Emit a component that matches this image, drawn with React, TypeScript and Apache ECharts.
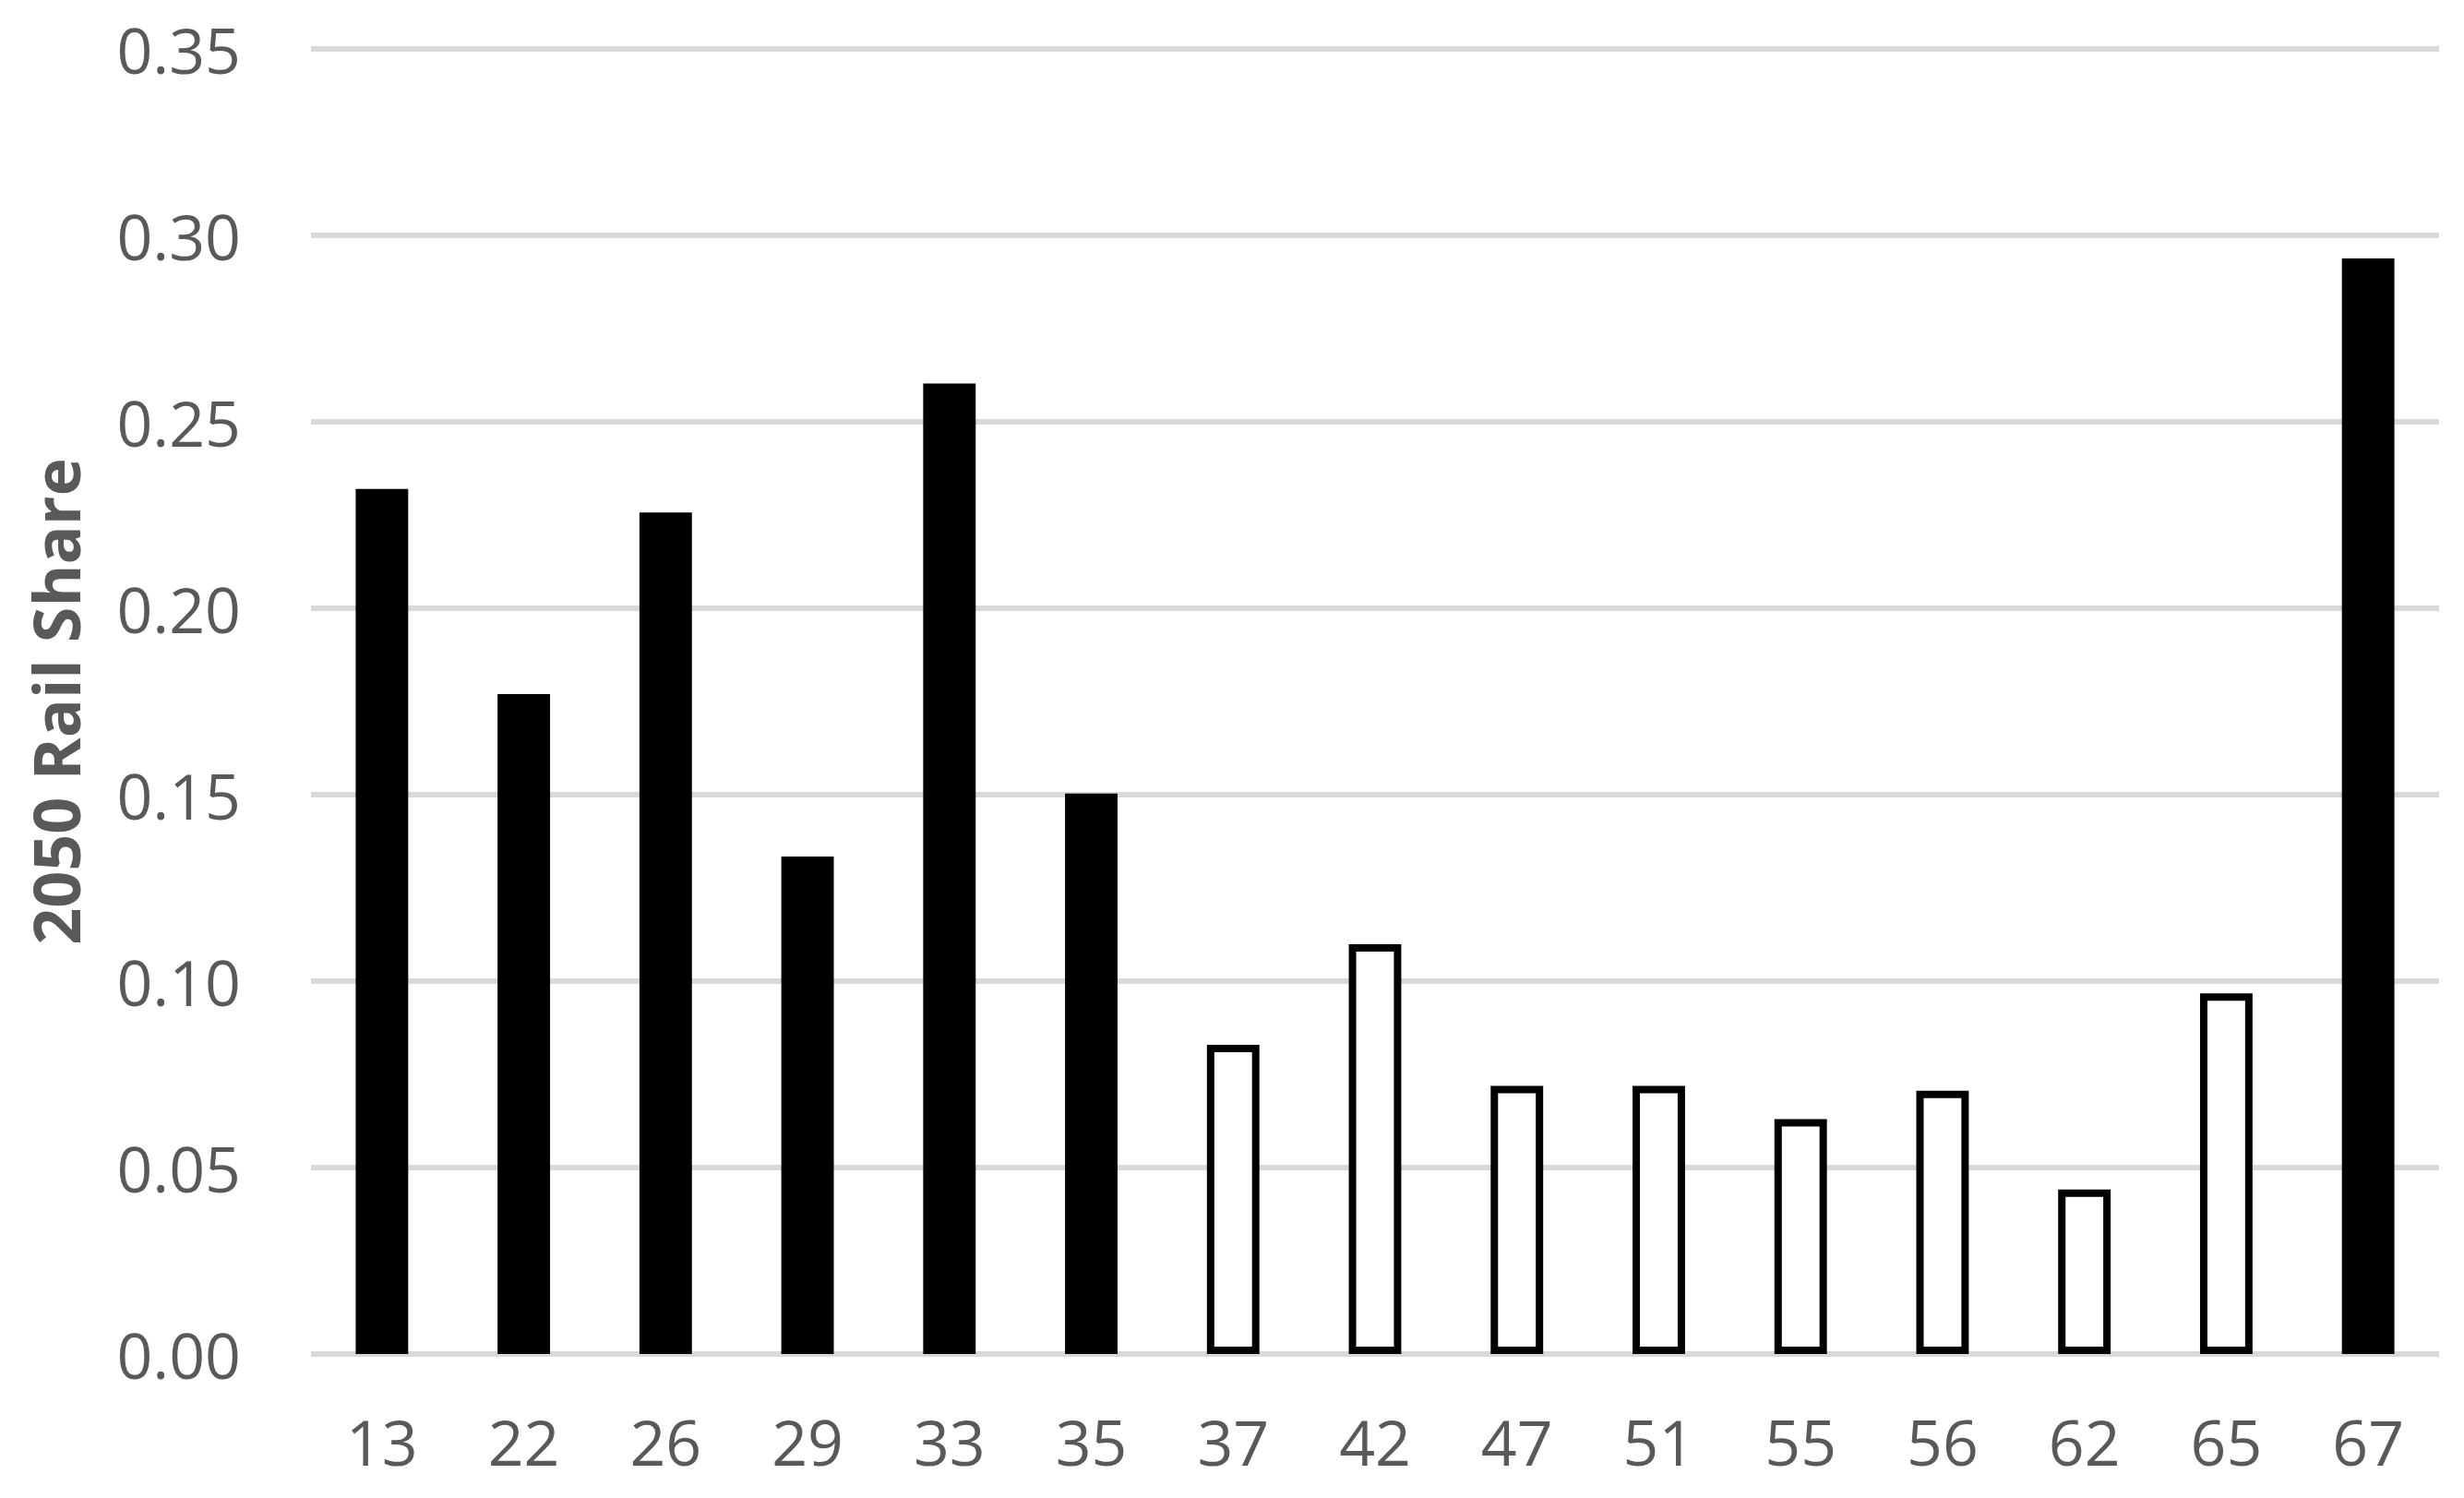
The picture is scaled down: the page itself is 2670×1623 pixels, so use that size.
import React, { useEffect, useRef } from "react";
import * as echarts from "echarts";

const categories = ["13", "22", "26", "29", "33", "35", "37", "42", "47", "51", "55", "56", "62", "65", "67"];
const railShare = [0.232, 0.177, 0.2257, 0.1334, 0.2603, 0.1503, 0.0829, 0.1099, 0.0719, 0.0719, 0.063, 0.0706, 0.0441, 0.0967, 0.2938];
const filled = [true, true, true, true, true, true, false, false, false, false, false, false, false, false, true];
const yTicks = { min: 0, max: 0.35, interval: 0.05 };
const yTitle = "2050 Rail Share";

export default function App() {
  const ref = useRef<HTMLDivElement>(null);
  useEffect(() => {
    if (!ref.current) return;
    const chart = echarts.init(ref.current, undefined, { renderer: "svg" });
    const font = "'Open Sans', 'Noto Sans', sans-serif";
    chart.setOption({
      animation: false,
      backgroundColor: "#ffffff",
      grid: { left: 337, right: 27, top: 53, bottom: 156, containLabel: false },
      xAxis: {
        type: "category",
        data: categories,
        axisLine: { show: false },
        axisTick: { show: false },
        axisLabel: { color: "#595959", fontSize: 68, fontFamily: font, margin: 60 },
        splitLine: { show: false },
      },
      yAxis: {
        type: "value",
        min: yTicks.min,
        max: yTicks.max,
        interval: yTicks.interval,
        axisLine: { show: false },
        axisTick: { show: false },
        axisLabel: {
          color: "#595959",
          fontSize: 68,
          fontFamily: font,
          margin: 76,
          formatter: (v: number) => v.toFixed(2),
        },
        splitLine: { show: true, lineStyle: { color: "#d9d9d9", width: 6 } },
        name: yTitle,
        nameLocation: "middle",
        nameGap: 242,
        nameRotate: 90,
        nameTextStyle: { color: "#595959", fontSize: 70, fontWeight: "bold", fontFamily: font },
      },
      series: [
        {
          type: "bar",
          barWidth: "37%",
          data: railShare.map((v, i) => ({
            value: v,
            itemStyle: filled[i]
              ? { color: "#000000", borderColor: "#000000", borderWidth: 0 }
              : { color: "#ffffff", borderColor: "#000000", borderWidth: 8 },
          })),
        },
      ],
    });
    return () => chart.dispose();
  }, []);
  return <div ref={ref} style={{ position: "fixed", left: 0, top: 0, width: 2670, height: 1623 }} />;
}
